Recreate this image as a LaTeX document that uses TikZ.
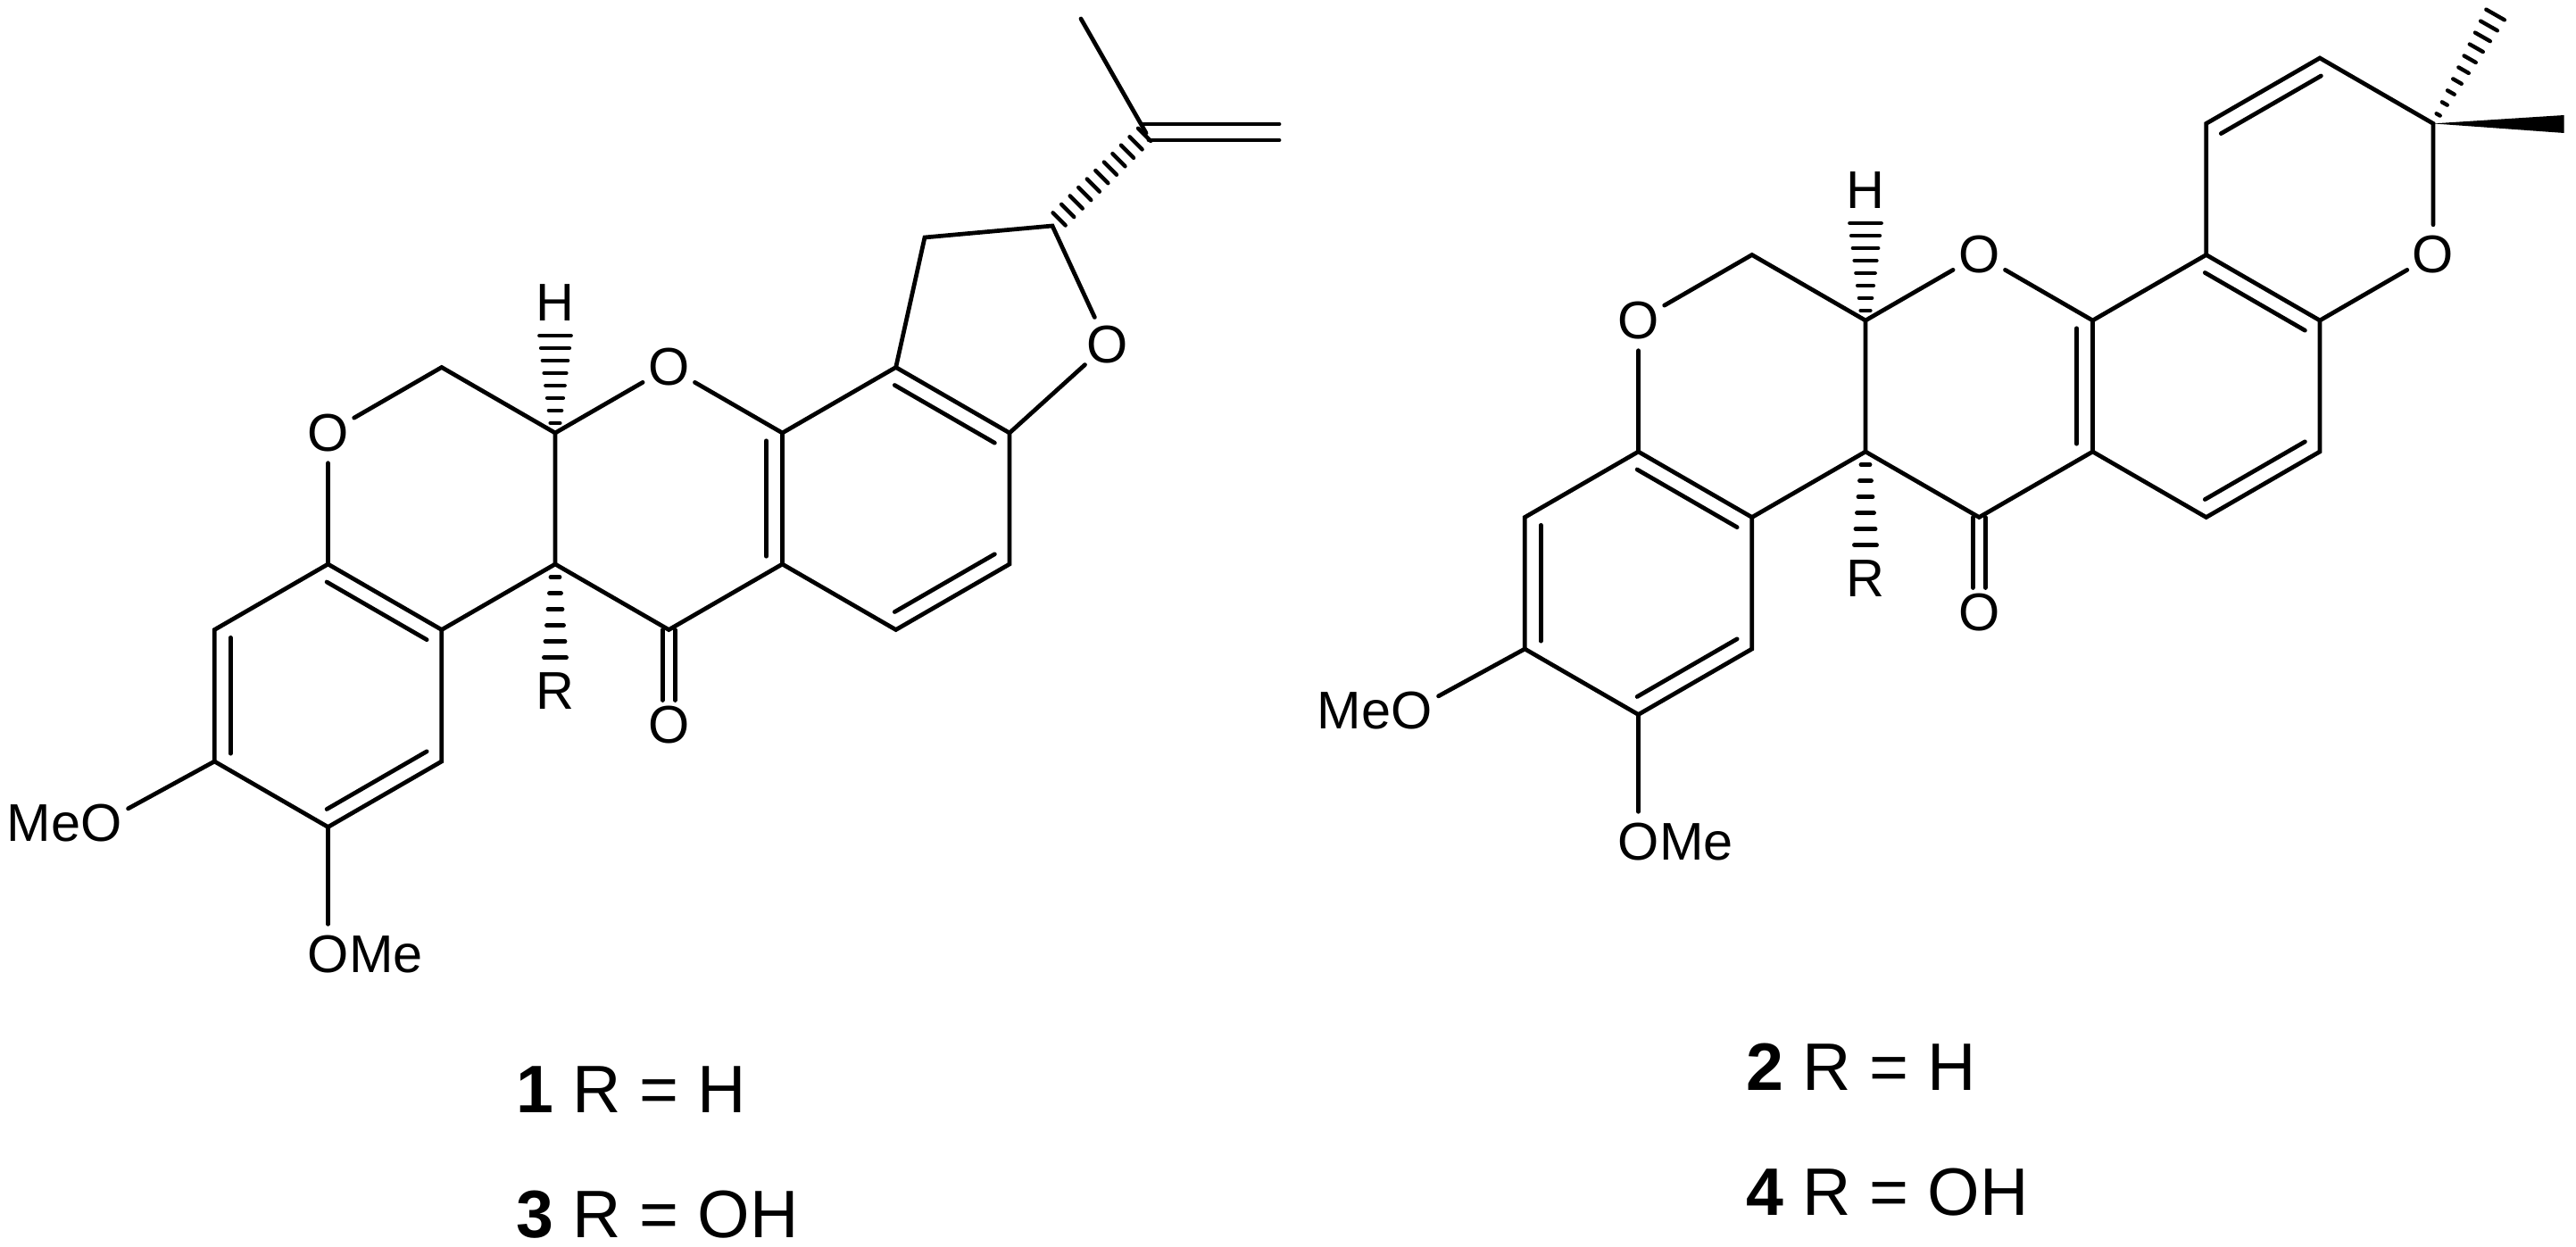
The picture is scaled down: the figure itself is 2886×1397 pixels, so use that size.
\documentclass[tikz,border=0pt]{standalone}
\usepackage{fontspec}
\setmainfont{Liberation Sans}
\usetikzlibrary{calc}

\tikzset{
  bond/.style={line width=1.35pt, line cap=round, line join=miter},
  hashline/.style={line width=1.25pt, line cap=round},
  atom/.style={circle, inner sep=0pt, minimum size=0.66cm, font=\fontsize{16.9pt}{20pt}\selectfont},
  tail/.style={inner sep=0pt, font=\fontsize{16.9pt}{20pt}\selectfont},
  caption/.style={inner sep=0pt, anchor=base west, font=\fontsize{21.4pt}{26pt}\selectfont}
}

% inner line of a double bond
\newcommand{\innerbond}[2]{%
  \draw [bond] ($(#1)!0.06!(#2)!0.18cm!90:(#2)$) -- ($(#2)!0.06!(#1)!-0.18cm!90:(#1)$);}

% hashed bond: from, to, stripes, half width at start and end (cm)
\newcommand{\hashbond}[5]{%
  \foreach \k in {1,...,#3} {
    \pgfmathsetmacro{\tpos}{(\k-0.2)/#3}
    \pgfmathsetmacro{\hw}{#4+(#5-#4)*\tpos}
    \draw [hashline] ($(#1)!\tpos!(#2)!\hw cm!90:(#2)$) -- ($(#1)!\tpos!(#2)!-\hw cm!90:(#2)$);
  }}

% the four rings both molecules share, #1 = prefix
\newcommand{\rotcore}[1]{%
  \coordinate (#1a) at (240.3,705.5);
  \coordinate (#1b) at (240.3,853);
  \coordinate (#1c) at (367.5,926.5);
  \coordinate (#1d) at (494.8,853);
  \coordinate (#1e) at (494.8,705.5);
  \coordinate (#1f) at (367.5,632);
  \coordinate (#1g) at (494.8,411.5);
  \coordinate (#1h) at (622,485);
  \coordinate (#1i) at (622,632);
  \coordinate (#1k) at (749.3,705.5);
  \coordinate (#1j) at (876.5,485);
  \coordinate (#1l) at (876.5,632);
  \coordinate (#1m) at (1003.7,411.5);
  \coordinate (#1n) at (1131,485);
  \coordinate (#1p) at (1131,632);
  \coordinate (#1q) at (1003.7,705.5);
  \node [atom] (#1oa) at (367.5,485) {O};
  \node [atom] (#1ob) at (749.3,411.5) {O};
  \node [atom] (#1oc) at (749.3,812.5) {O};
  \node [atom] (#1hyd) at (622,339.5) {H};
  \node [atom] (#1res) at (622,774) {R};
  \node [atom] (#1meo) at (114,922) {O};
  \node [tail, anchor=base east] (#1me) at ([xshift=-0.231cm]#1meo.base) {Me};
  \node [atom] (#1ome) at (367.5,1069) {O};
  \node [tail, anchor=base west] (#1mf) at ([xshift=0.231cm]#1ome.base) {Me};
  \draw [bond] (#1a) -- (#1b) -- (#1c) -- (#1d) -- (#1e) -- (#1f) -- cycle;
  \draw [bond] (#1f) -- (#1oa) -- (#1g) -- (#1h) -- (#1i) -- (#1e);
  \draw [bond] (#1i) -- (#1k) -- (#1l) -- (#1j) -- (#1ob) -- (#1h);
  \draw [bond] (#1j) -- (#1m) -- (#1n) -- (#1p) -- (#1q) -- (#1l);
  \draw [bond] (#1b) -- (#1meo);
  \draw [bond] (#1c) -- (#1ome);
  \draw [bond] ($(#1k)+(-7,0)$) -- ($(#1oc)+(-7,-28)$);
  \draw [bond] ($(#1k)+(7,0)$) -- ($(#1oc)+(7,-28)$);
  \innerbond{#1a}{#1b}
  \innerbond{#1c}{#1d}
  \innerbond{#1e}{#1f}
  \innerbond{#1l}{#1j}
  \innerbond{#1n}{#1m}
  \innerbond{#1q}{#1p}
  \hashbond{#1h}{#1hyd.south}{8}{0.04}{0.18}
  \hashbond{#1i}{#1res.north}{6}{0.04}{0.13}
}

\begin{document}
\begin{tikzpicture}[x=0.01cm, y=-0.01cm]
  \useasboundingbox (0,0) rectangle (2886,1397);

  % molecule 1
  \rotcore{l}
  \coordinate (lch) at (1036,266);
  \coordinate (lst) at (1179,253);
  \coordinate (lvi) at (1284,149);
  \coordinate (lme) at (1211,21);
  \coordinate (lv1) at (1280,139);
  \coordinate (lv2) at (1287,157);
  \coordinate (le1) at (1433,139);
  \coordinate (le2) at (1433,157);
  \node [atom] (lod) at (1240.5,386) {O};
  \draw [bond] (lm) -- (lch) -- (lst) -- (lod) -- (ln);
  \draw [bond] (lme) -- (lvi);
  \draw [bond] (lv1) -- (le1);
  \draw [bond] (lv2) -- (le2);
  \hashbond{lst}{lvi}{11}{0.1}{0.1}

  % molecule 2
  \begin{scope}[shift={(1468,-126)}]
    \rotcore{r}
  \end{scope}
  \coordinate (rs) at (2726,138.4);
  \coordinate (rt) at (2599,65);
  \coordinate (ru) at (2471.7,138.4);
  \coordinate (rha) at (2797,14);
  \coordinate (rwa) at (2872.7,129);
  \coordinate (rwb) at (2872.7,149);
  \node [atom] (rod) at (2726,285.5) {O};
  \draw [bond] (rm) -- (ru) -- (rt) -- (rs) -- (rod) -- (rn);
  \innerbond{rt}{ru}
  \hashbond{rs}{rha}{10}{0.015}{0.12}
  \fill (rs) -- (rwa) -- (rwb) -- cycle;

  % captions
  \node [caption] (capa) at (578,1246) {\textbf{1} R = H};
  \node [caption] (capb) at (578,1386) {\textbf{3} R = OH};
  \node [caption] (capc) at (1956,1221) {\textbf{2} R = H};
  \node [caption] (capd) at (1956,1361) {\textbf{4} R = OH};
\end{tikzpicture}
\end{document}
